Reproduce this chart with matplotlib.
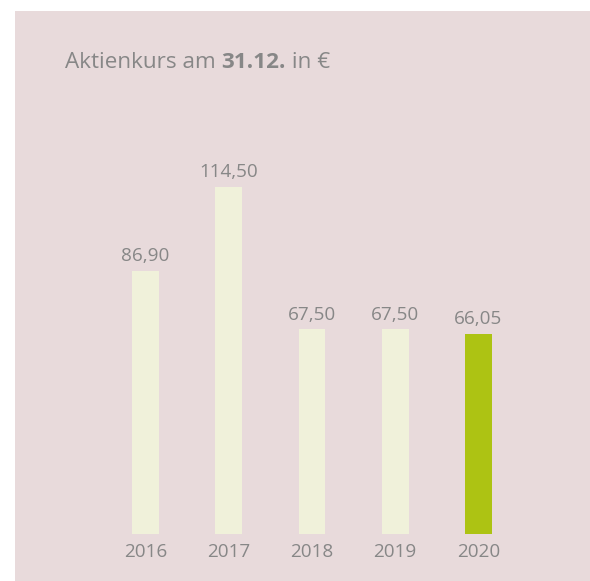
import matplotlib.pyplot as plt
from matplotlib.patches import Rectangle

years = ['2016', '2017', '2018', '2019', '2020']
values = [86.90, 114.50, 67.50, 67.50, 66.05]
bar_colors = ['#f0f1da', '#f0f1da', '#f0f1da', '#f0f1da', '#adc313']

W, H = 590, 581
fig = plt.figure(figsize=(W / 100, H / 100), dpi=100)
fig.patch.set_facecolor('white')

# Hintergrundfläche
fig.patches.append(Rectangle((15 / W, 0), 1, (H - 11) / H, transform=fig.transFigure,
                             facecolor='#e8dadb', edgecolor='none', zorder=-1))

bottom_px = 533.7
px_per_unit = 3.028
ymax = 120
ax_left, ax_right = 104 / W, 520 / W
ax = fig.add_axes([ax_left, (H - bottom_px) / H, ax_right - ax_left, ymax * px_per_unit / H])
ax.set_facecolor('none')

x = range(len(years))
ax.bar(x, values, width=0.324, color=bar_colors)
ax.set_xlim(-0.5, 4.5)
ax.set_ylim(0, ymax)

gray = '#878787'
for i, v in enumerate(values):
    ax.annotate(f'{v:.2f}'.replace('.', ','), (i, v), xytext=(0, 4), textcoords='offset points',
                ha='center', va='bottom', fontsize=13.6, color=gray, family='Open Sans')

ax.set_xticks(list(x))
ax.set_xticklabels(years, fontsize=13.6, color=gray, family='Open Sans')
ax.tick_params(axis='x', length=0, pad=7)
ax.set_yticks([])
for s in ax.spines.values():
    s.set_visible(False)

# Titel aus drei Teilen (normal / fett / normal)
renderer = fig.canvas.get_renderer()
xpos = 65
for part, weight in [('Aktienkurs am ', 'normal'), ('31.12.', 'bold'), (' in €', 'normal')]:
    t = fig.text(xpos / W, 1 - 62 / H, part, fontsize=16.2, color=gray, weight=weight,
                 family='Open Sans', va='center', ha='left')
    xpos = t.get_window_extent(renderer).x1

fig.savefig('out.png', dpi=100)
